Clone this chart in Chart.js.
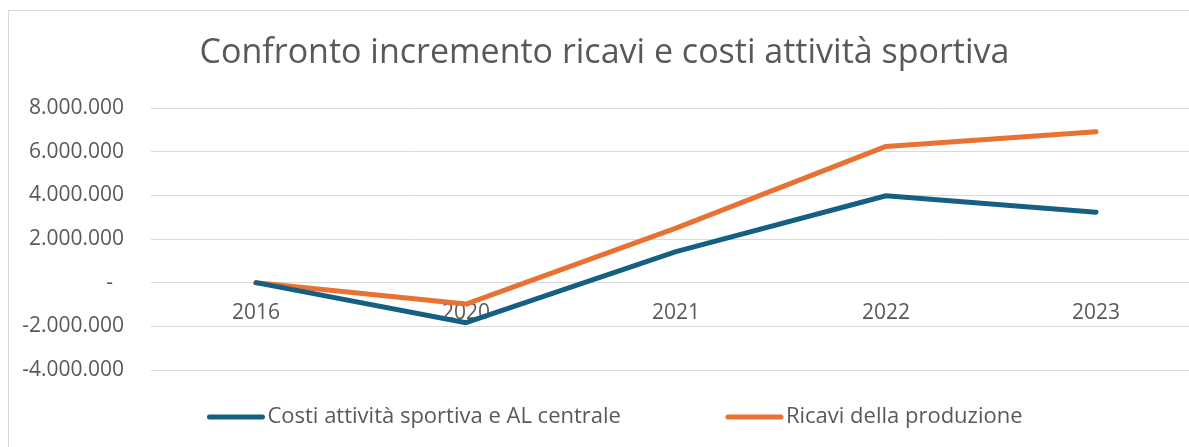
<!DOCTYPE html>
<html>
<head>
<meta charset="utf-8">
<script src="https://cdn.jsdelivr.net/npm/chart.js@4.4.1/dist/chart.umd.min.js"></script>
<style>
  html,body{margin:0;padding:0;background:#fff;overflow:hidden;}
  #wrap{width:1189px;height:447px;overflow:hidden;}
</style>
</head>
<body>
<div id="wrap"><canvas id="chart" width="1215" height="447"></canvas></div>
<script>
// dati
const anni = ["2016", "2020", "2021", "2022", "2023"];
const costi = [0, -1835000, 1420000, 3980000, 3230000];
const ricavi = [0, -980000, 2500000, 6240000, 6910000];
const nomiSerie = ["Costi attività sportiva e AL centrale", "Ricavi della produzione"];
const coloriSerie = ["#156082", "#E97132"];
const yMin = -4000000, yMax = 8000000, yStep = 2000000;

const fontBase = "'Open Sans', 'Liberation Sans', Arial, sans-serif";
const grigio = "#595959";

// cornice del grafico (tagliata a destra come nell'originale)
const cornice = {
    id: "cornice",
    beforeDraw(chart) {
        const c = chart.ctx;
        c.save();
        c.fillStyle = "#fff";
        c.fillRect(0, 0, chart.width, chart.height);
        c.strokeStyle = "#d9d9d9";
        c.lineWidth = 1;
        c.strokeRect(8.5, 10.5, 1300, 600);
        c.restore();
    }
};

// legenda disegnata a mano, stile Excel
const legenda = {
    id: "legenda",
    afterDraw(chart) {
        const c = chart.ctx;
        const y = 417, lw = 57, gap = 3, spazio = 105;
        c.save();
        c.font = "22px " + fontBase;
        const larghezze = chart.data.datasets.map(d => lw + gap + c.measureText(d.label).width);
        let x = 615 - (larghezze.reduce((a, b) => a + b, 0) + spazio) / 2;
        chart.data.datasets.forEach(function (d, i) {
            c.strokeStyle = d.borderColor;
            c.lineWidth = 5;
            c.lineCap = "round";
            c.beginPath();
            c.moveTo(x + 2, y);
            c.lineTo(x + lw - 2, y);
            c.stroke();
            c.fillStyle = grigio;
            c.textBaseline = "middle";
            c.textAlign = "left";
            c.fillText(d.label, x + lw + gap, y);
            x += larghezze[i] + spazio;
        });
        c.restore();
    }
};

const ctx = document.getElementById("chart").getContext("2d");
new Chart(ctx, {
    type: "line",
    data: {
        labels: anni,
        datasets: [
            {label: nomiSerie[0], data: costi, borderColor: coloriSerie[0], backgroundColor: coloriSerie[0]},
            {label: nomiSerie[1], data: ricavi, borderColor: coloriSerie[1], backgroundColor: coloriSerie[1]}
        ]
    },
    options: {
        responsive: false,
        animation: false,
        layout: {padding: {left: 8, right: 14, top: 10, bottom: 77}},
        elements: {
            line: {borderWidth: 5, tension: 0, borderCapStyle: "round", borderJoinStyle: "round"},
            point: {radius: 0, hoverRadius: 0}
        },
        plugins: {
            legend: {display: false},
            tooltip: {enabled: false},
            title: {
                display: true,
                text: "Confronto incremento ricavi e costi attività sportiva",
                color: grigio,
                font: {family: fontBase, size: 34, weight: "normal"},
                padding: {top: 22.6, bottom: 34.6}
            }
        },
        scales: {
            x: {
                type: "category",
                position: {y: 0},
                offset: true,
                grid: {display: false, drawTicks: false},
                border: {display: false},
                ticks: {color: grigio, font: {family: fontBase, size: 21}, padding: 18, maxRotation: 0}
            },
            y: {
                min: yMin,
                max: yMax,
                grid: {color: "#d9d9d9", lineWidth: 1, drawTicks: false},
                border: {display: false},
                ticks: {
                    stepSize: yStep,
                    color: grigio,
                    font: {family: fontBase, size: 21},
                    padding: 27,
                    callback: function (v) {
                        return v === 0 ? "-  " : v.toLocaleString("it-IT");
                    }
                },
                afterFit: function (s) { s.width = 143; }
            }
        }
    },
    plugins: [cornice, legenda]
});
</script>
</body>
</html>
